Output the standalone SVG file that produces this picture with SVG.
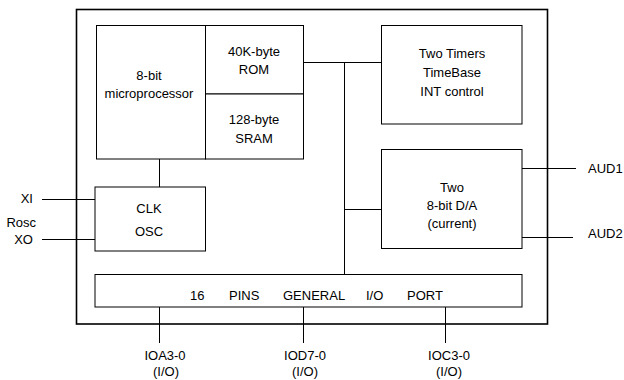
<svg xmlns="http://www.w3.org/2000/svg" width="624" height="380" viewBox="0 0 624 380">
<style>
text{font-family:"Liberation Sans",Arial,sans-serif;font-size:13px;fill:#000}
.c{text-anchor:middle}
.r{text-anchor:end}
.box{fill:#fff;stroke:#000;stroke-width:1}
.ln{stroke:#000;stroke-width:1;fill:none}
</style>
<rect width="624" height="380" fill="#fff"/>
<g id="chip"><rect x="76.5" y="9.5" width="471" height="314.5" fill="none" stroke="#000" stroke-width="1.6"/></g>
<g id="connectors">
<path class="ln" d="M303 62.5H381M344.5 62.5V274M344.5 209.5H381"/>
<path class="ln" d="M159.5 159V187"/>
<path class="ln" d="M42 199.5H95M42 239.5H95"/>
<path class="ln" d="M522 168.5H576M522 237.5H573"/>
<path class="ln" d="M159.5 307V343M303.5 307V343M445.5 307V343"/>
</g>
<g id="cpu"><rect class="box" x="96.5" y="25.5" width="109" height="133.5"/>
<text class="c" x="149" y="80">8-bit</text><text class="c" x="149" y="98">microprocessor</text></g>
<g id="rom"><rect class="box" x="205.5" y="25.5" width="98" height="68.5"/>
<text class="c" x="254" y="56">40K-byte</text><text class="c" x="254" y="74">ROM</text></g>
<g id="sram"><rect class="box" x="205.5" y="94" width="98" height="65"/>
<text class="c" x="254" y="124">128-byte</text><text class="c" x="254" y="143">SRAM</text></g>
<g id="timers"><rect class="box" x="381.5" y="25.5" width="140.5" height="98.5"/>
<text class="c" x="452" y="58">Two Timers</text><text class="c" x="452" y="77">TimeBase</text><text class="c" x="452" y="96">INT control</text></g>
<g id="da"><rect class="box" x="381.5" y="149.5" width="140.5" height="99"/>
<text class="c" x="452" y="192">Two</text><text class="c" x="452" y="210">8-bit D/A</text><text class="c" x="452" y="228">(current)</text></g>
<g id="clk"><rect class="box" x="95" y="187" width="110.5" height="64"/>
<text class="c" x="149" y="213">CLK</text><text class="c" x="149" y="236">OSC</text></g>
<g id="io"><rect class="box" x="95" y="274.5" width="427" height="32.5"/>
<text x="190" y="300">16</text><text x="229" y="300">PINS</text><text x="283" y="300">GENERAL</text><text x="366" y="300">I/O</text><text x="407" y="300">PORT</text></g>
<g id="labels">
<text class="r" x="33" y="203">XI</text>
<text class="r" x="36" y="227">Rosc</text>
<text class="r" x="33" y="244">XO</text>
<text x="588" y="173">AUD1</text>
<text x="588" y="238">AUD2</text>
<text class="c" x="165" y="360">IOA3-0</text><text class="c" x="166" y="376">(I/O)</text>
<text class="c" x="305" y="360">IOD7-0</text><text class="c" x="305" y="376">(I/O)</text>
<text class="c" x="449" y="360">IOC3-0</text><text class="c" x="449" y="376">(I/O)</text>
</g>
</svg>
